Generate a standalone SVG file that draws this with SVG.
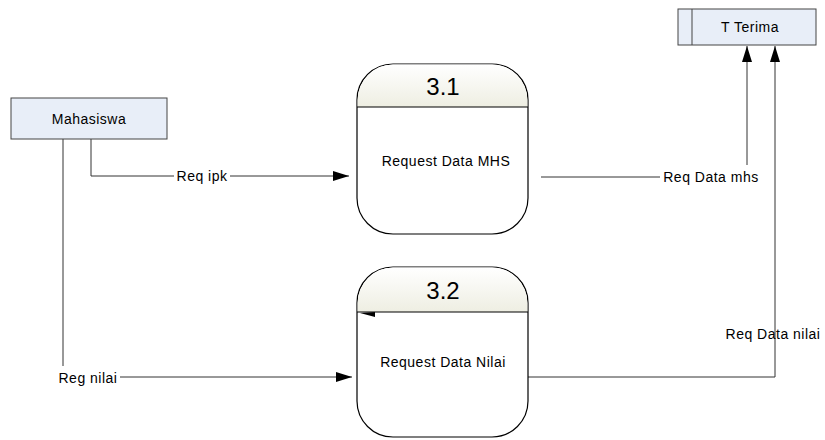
<svg xmlns="http://www.w3.org/2000/svg" width="825" height="440" viewBox="0 0 825 440">
  <defs>
    <marker id="arrow" viewBox="0 0 16 10" refX="16" refY="5" markerWidth="16" markerHeight="10" markerUnits="userSpaceOnUse" orient="auto">
      <path d="M0,0 L16,5 L0,10 Z" fill="#000"/>
    </marker>
    <linearGradient id="hdr" x1="0" y1="0" x2="0" y2="1">
      <stop offset="0" stop-color="#FFFFFF"/>
      <stop offset="1" stop-color="#EEEEE2"/>
    </linearGradient>
  </defs>
  <style>
    text { font-family: "Liberation Sans", Arial, sans-serif; fill: #000; }
    .lbl { font-size: 14px; letter-spacing: 0.5px; }
    .num { font-size: 24px; }
    .entity { fill: #E8EEF8; stroke: #444; stroke-width: 1; }
    .proc { fill: #FFFFFF; stroke: #000; stroke-width: 1.2; }
    .hdr { fill: url(#hdr); stroke: none; }
    .sep { stroke: #000; stroke-width: 1.2; }
    .flow { fill: none; stroke: #333; stroke-width: 1; }
    .mask { fill: #FFFFFF; }
  </style>
  <rect width="825" height="440" fill="#FFFFFF"/>

  <!-- data flows -->
  <g id="connectors">
    <path class="flow" d="M91,139 V176 H349" marker-end="url(#arrow)"/>
    <rect class="mask" x="174" y="167" width="56" height="18"/>
    <text class="lbl" x="202" y="181" text-anchor="middle">Req ipk</text>

    <path class="flow" d="M63,139 V377 H352" marker-end="url(#arrow)"/>
    <rect class="mask" x="56" y="366" width="64" height="20"/>
    <text class="lbl" x="88" y="383" text-anchor="middle">Reg nilai</text>

    <path class="flow" d="M541,177 H747 V46" marker-end="url(#arrow)"/>
    <rect class="mask" x="660" y="165" width="102" height="21"/>
    <text class="lbl" x="711" y="182" text-anchor="middle">Req Data mhs</text>

    <path class="flow" d="M528,377 H775 V46" marker-end="url(#arrow)"/>
    <text class="lbl" x="773" y="339" text-anchor="middle">Req Data nilai</text>
  </g>

  <!-- external entity -->
  <g id="mahasiswa">
    <rect class="entity" x="11" y="98" width="156" height="41"/>
    <text class="lbl" x="89" y="124" text-anchor="middle">Mahasiswa</text>
  </g>

  <!-- data store -->
  <g id="t-terima">
    <rect class="entity" x="678" y="9" width="138" height="36"/>
    <line x1="692" y1="9" x2="692" y2="45" stroke="#444" stroke-width="1"/>
    <text class="lbl" x="750" y="32" text-anchor="middle">T Terima</text>
  </g>

  <!-- process 3.1 -->
  <g id="proc-3-1">
    <rect class="proc" x="357" y="64" width="171" height="170" rx="36" ry="36"/>
    <path class="hdr" d="M357.6,107 V100 A35.4,35.4 0 0 1 393,64.6 H492 A35.4,35.4 0 0 1 527.4,100 V107 Z"/>
    <line class="sep" x1="357" y1="107" x2="528" y2="107"/>
    <text class="num" x="443" y="95" text-anchor="middle">3.1</text>
    <text class="lbl" x="446" y="166" text-anchor="middle">Request Data MHS</text>
  </g>

  <!-- process 3.2 -->
  <g id="proc-3-2">
    <rect class="proc" x="357" y="267" width="171" height="170" rx="36" ry="36"/>
    <path class="hdr" d="M357.6,312 V303 A35.4,35.4 0 0 1 393,267.6 H492 A35.4,35.4 0 0 1 527.4,303 V312 Z"/>
    <line class="sep" x1="357" y1="312" x2="528" y2="312"/>
    <polygon points="360,313 375,312 375,317" fill="#000"/>
    <text class="num" x="443" y="299" text-anchor="middle">3.2</text>
    <text class="lbl" x="443" y="367" text-anchor="middle">Request Data Nilai</text>
  </g>
</svg>
